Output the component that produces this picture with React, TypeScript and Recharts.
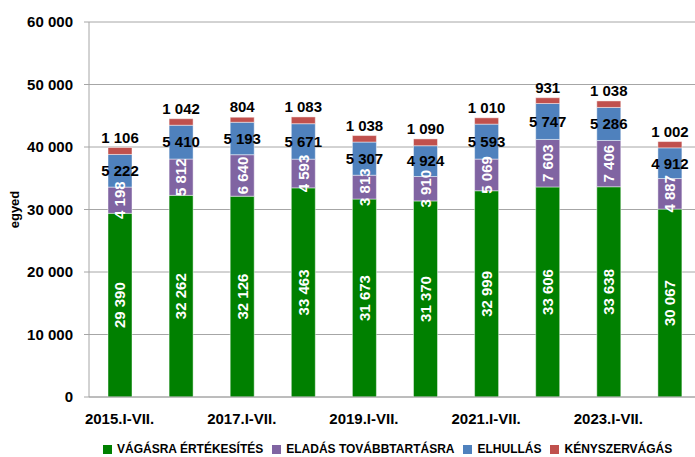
import React from 'react';
import { BarChart, Bar, XAxis, YAxis, CartesianGrid, Legend, LabelList } from 'recharts';

const categories = ['2015.I-VII.', '2016.I-VII.', '2017.I-VII.', '2018.I-VII.', '2019.I-VII.', '2020.I-VII.', '2021.I-VII.', '2022.I-VII.', '2023.I-VII.', '2024.I-VII.'];
const vagasra = [29390, 32262, 32126, 33463, 31673, 31370, 32999, 33606, 33638, 30067];
const eladas = [4198, 5812, 6640, 4593, 3813, 3910, 5069, 7603, 7406, 4887];
const elhullas = [5222, 5410, 5193, 5671, 5307, 4924, 5593, 5747, 5286, 4912];
const kenyszer = [1106, 1042, 804, 1083, 1038, 1090, 1010, 931, 1038, 1002];
const yTicks = [0, 10000, 20000, 30000, 40000, 50000, 60000];
const edgeTicks = [0, 1, 2, 3, 4, 5, 6, 7, 8, 9, 10];

const series = [
  { key: 'vagasra', name: 'VÁGÁSRA ÉRTÉKESÍTÉS', color: '#008000' },
  { key: 'eladas', name: 'ELADÁS TOVÁBBTARTÁSRA', color: '#8064A2' },
  { key: 'elhullas', name: 'ELHULLÁS', color: '#4F81BD' },
  { key: 'kenyszer', name: 'KÉNYSZERVÁGÁS', color: '#C0504D' },
];

const data = categories.map((name, i) => ({
  name,
  vagasra: vagasra[i],
  eladas: eladas[i],
  elhullas: elhullas[i],
  kenyszer: kenyszer[i],
}));

// non-breaking space so the labels don't wrap inside the narrow bars
const fmt = (v: any) => String(v).replace(/\B(?=(\d{3})+(?!\d))/g, '\u00A0');

const gridColor = '#A6A6A6';
const font = 'Liberation Sans, Arial, sans-serif';

const renderLegend = () => (
  <div style={{ display: 'flex', alignItems: 'center', height: 16, paddingLeft: 103, fontFamily: font, fontSize: 12, fontWeight: 700, color: '#000' }}>
    {series.map((s) => (
      <div key={s.key} style={{ display: 'flex', alignItems: 'center', marginRight: 9 }}>
        <span style={{ display: 'inline-block', width: 9, height: 9, background: s.color, marginRight: 5 }} />
        <span>{s.name}</span>
      </div>
    ))}
  </div>
);

export default function App() {
  const labelStyle = { fontSize: 15, fontWeight: 700, fontFamily: font };
  return (
    <div style={{ position: 'absolute', left: 0, top: 0, width: 695, height: 457, overflow: 'hidden', background: '#fff', fontFamily: font }}>
      <BarChart width={712} height={457} data={data} margin={{ top: 22, right: 12, left: 0, bottom: 0 }} barSize={24}>
        <CartesianGrid vertical={false} stroke={gridColor} />
        <XAxis
          xAxisId="edges"
          type="number"
          domain={[0, 10]}
          ticks={edgeTicks}
          tick={false}
          axisLine={false}
          tickSize={6}
          tickLine={{ stroke: gridColor }}
          height={0}
        />
        <XAxis
          dataKey="name"
          interval={1}
          tickLine={false}
          tickSize={6}
          tickMargin={10}
          axisLine={{ stroke: gridColor }}
          tick={{ fill: '#000', fontSize: 15, fontWeight: 700, fontFamily: font }}
          height={44}
        />
        <YAxis
          width={89}
          domain={[0, 60000]}
          ticks={yTicks}
          tickFormatter={fmt}
          tickSize={5}
          tickMargin={11}
          axisLine={{ stroke: gridColor }}
          tickLine={{ stroke: gridColor }}
          tick={{ fill: '#000', fontSize: 15, fontWeight: 700, fontFamily: font }}
          label={{ value: 'egyed', angle: -90, position: 'center', dx: -30, fill: '#000', fontSize: 13, fontWeight: 700, fontFamily: font }}
        />
        <Legend verticalAlign="bottom" content={renderLegend} wrapperStyle={{ left: 0, bottom: 0, width: 712 }} />
        <Bar dataKey="vagasra" name={series[0].name} stackId="a" fill={series[0].color} stroke="rgba(255,255,255,0.45)" isAnimationActive={false}>
          <LabelList dataKey="vagasra" position="center" angle={-90} fill="#fff" formatter={fmt} style={labelStyle} />
        </Bar>
        <Bar dataKey="eladas" name={series[1].name} stackId="a" fill={series[1].color} stroke="rgba(255,255,255,0.45)" isAnimationActive={false}>
          <LabelList dataKey="eladas" position="center" angle={-90} fill="#fff" formatter={fmt} style={labelStyle} />
        </Bar>
        <Bar dataKey="elhullas" name={series[2].name} stackId="a" fill={series[2].color} stroke="rgba(255,255,255,0.45)" isAnimationActive={false}>
          <LabelList dataKey="elhullas" position="center" fill="#000" formatter={fmt} style={labelStyle} />
        </Bar>
        <Bar dataKey="kenyszer" name={series[3].name} stackId="a" fill={series[3].color} stroke="rgba(255,255,255,0.45)" isAnimationActive={false}>
          <LabelList dataKey="kenyszer" position="top" offset={5} fill="#000" formatter={fmt} style={labelStyle} />
        </Bar>
      </BarChart>
    </div>
  );
}
